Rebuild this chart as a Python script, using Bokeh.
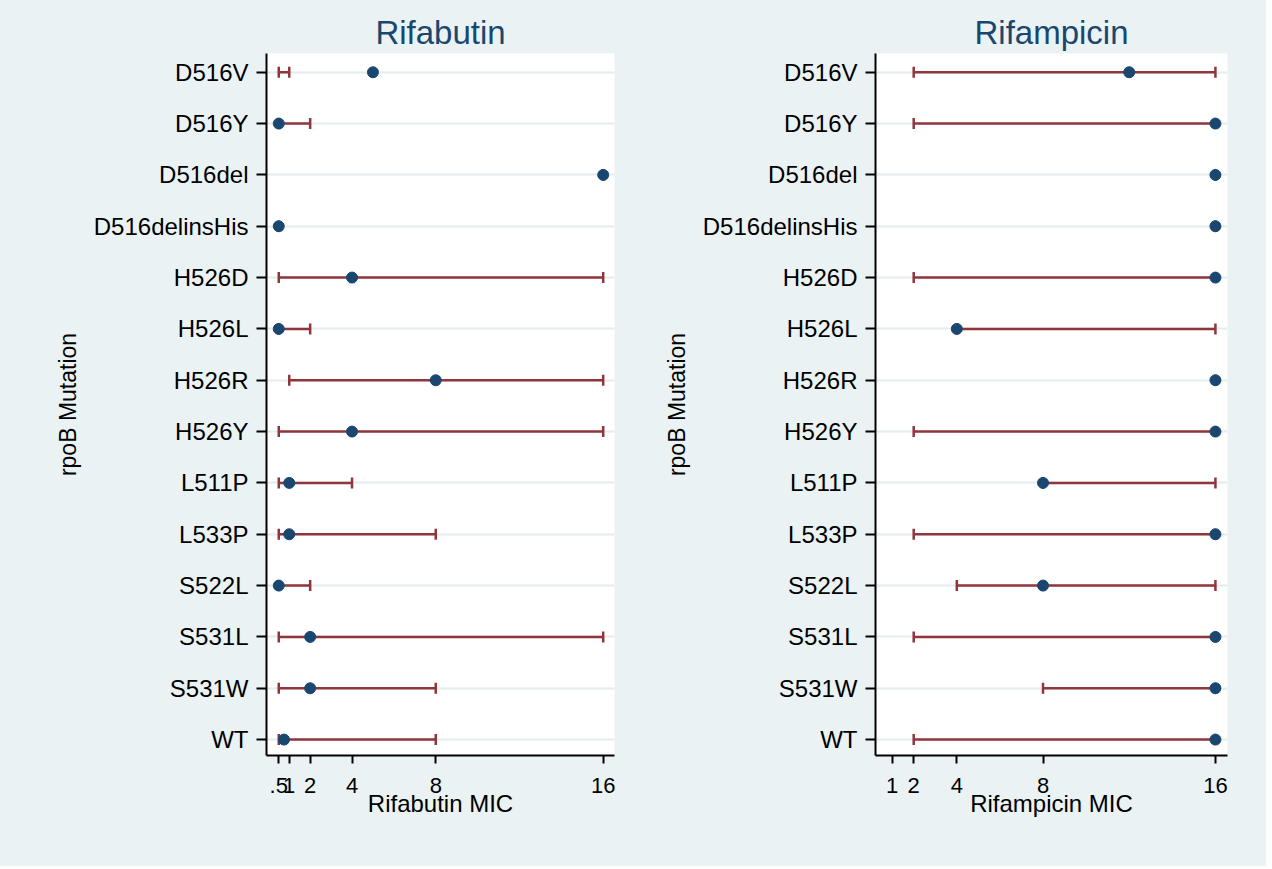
import numpy as np
from bokeh.plotting import figure
from bokeh.layouts import row
from bokeh.models import Range1d, FixedTicker, ColumnDataSource, Whisker, TeeHead
from bokeh.embed import file_html
from bokeh.resources import INLINE

mutations = ["D516V", "D516Y", "D516del", "D516delinsHis", "H526D", "H526L", "H526R",
             "H526Y", "L511P", "L533P", "S522L", "S531L", "S531W", "WT"]

rfb_mic = [5, 0.5, 16, 0.5, 4, 0.5, 8, 4, 1, 1, 0.5, 2, 2, 0.75]
rfb_low = [0.5, 0.5, 16, 0.5, 0.5, 0.5, 1, 0.5, 0.5, 0.5, 0.5, 0.5, 0.5, 0.5]
rfb_high = [1, 2, 16, 0.5, 16, 2, 16, 16, 4, 8, 2, 16, 8, 8]

rif_mic = [12, 16, 16, 16, 16, 4, 16, 16, 8, 16, 8, 16, 16, 16]
rif_low = [2, 2, 16, 16, 2, 4, 16, 2, 8, 2, 4, 2, 8, 2]
rif_high = [16, 16, 16, 16, 16, 16, 16, 16, 16, 16, 16, 16, 16, 16]

rfb_ticks = [0.5, 1, 2, 4, 8, 16]
rfb_tick_labels = [".5", "1", "2", "4", "8", "16"]
rif_ticks = [1, 2, 4, 8, 16]
rif_tick_labels = ["1", "2", "4", "8", "16"]

BG = "#eaf2f3"
NAVY = "#1a476f"
MAROON = "#90353b"
FONT = "Liberation Sans"


def panel(title, xlabel, mic, low, high, ticks, tick_labels, xr, width, ml, mr):
    n = len(mutations)
    ypos = [n - 1 - i for i in range(n)]
    src = ColumnDataSource(dict(y=ypos, mic=mic, low=low, high=high))
    p = figure(width=width, height=866, output_backend="svg", toolbar_location=None,
               x_range=Range1d(*xr), y_range=Range1d(-0.31, n - 1 + 0.365),
               min_border_left=ml, min_border_right=mr, min_border_top=53,
               min_border_bottom=111)
    p.background_fill_color = "white"
    p.border_fill_color = BG
    p.outline_line_color = None

    p.title.text = title
    p.title.align = "center"
    p.title.text_font = FONT
    p.title.text_font_style = "normal"
    p.title.text_font_size = "33px"
    p.title.text_color = NAVY
    p.title.standoff = 6

    p.xgrid.visible = False
    p.ygrid.grid_line_color = "#e3ecee"
    p.ygrid.grid_line_width = 2

    p.xaxis.ticker = FixedTicker(ticks=ticks)
    p.xaxis.major_label_overrides = {t: l for t, l in zip(ticks, tick_labels)}
    p.yaxis.ticker = FixedTicker(ticks=ypos)
    p.yaxis.major_label_overrides = {y: m for y, m in zip(ypos, mutations)}
    p.xaxis.axis_label = xlabel
    p.yaxis.axis_label = "rpoB Mutation"

    for ax in (p.xaxis[0], p.yaxis[0]):
        ax.axis_line_width = 2
        ax.axis_line_color = "black"
        ax.major_tick_line_width = 2
        ax.major_tick_line_color = "black"
        ax.major_tick_in = 0
        ax.minor_tick_line_color = None
        ax.major_label_text_font = FONT
        ax.major_label_text_color = "black"
        ax.axis_label_text_font = FONT
        ax.axis_label_text_font_style = "normal"
        ax.axis_label_text_color = "black"
    p.xaxis.major_tick_out = 8
    p.xaxis.major_label_text_font_size = "22px"
    p.xaxis.major_label_standoff = 14
    p.xaxis.axis_label_text_font_size = "24px"
    p.xaxis.axis_label_standoff = -6
    p.yaxis.major_tick_out = 10
    p.yaxis.major_label_text_font_size = "24px"
    p.yaxis.major_label_standoff = 8
    p.yaxis.axis_label_text_font_size = "23px"
    p.yaxis.axis_label_standoff = 10

    w = Whisker(source=src, base="y", lower="low", upper="high", dimension="width",
                line_color=MAROON, line_width=2.5,
                lower_head=TeeHead(size=11, line_color=MAROON, line_width=2.5),
                upper_head=TeeHead(size=11, line_color=MAROON, line_width=2.5))
    p.add_layout(w)
    p.scatter("mic", "y", source=src, size=11, marker="circle",
              fill_color=NAVY, line_color=NAVY)
    return p


p1 = panel("Rifabutin", "Rifabutin MIC", rfb_mic, rfb_low, rfb_high,
           rfb_ticks, rfb_tick_labels, (-0.086, 16.54), 644, 266, 30)
p2 = panel("Rifampicin", "Rifampicin MIC", rif_mic, rif_low, rif_high,
           rif_ticks, rif_tick_labels, (0.227, 16.56), 622, 231, 39)

layout = row(p1, p2, spacing=0, styles={"background-color": BG})
open("out.html", "w").write(file_html(layout, INLINE))
